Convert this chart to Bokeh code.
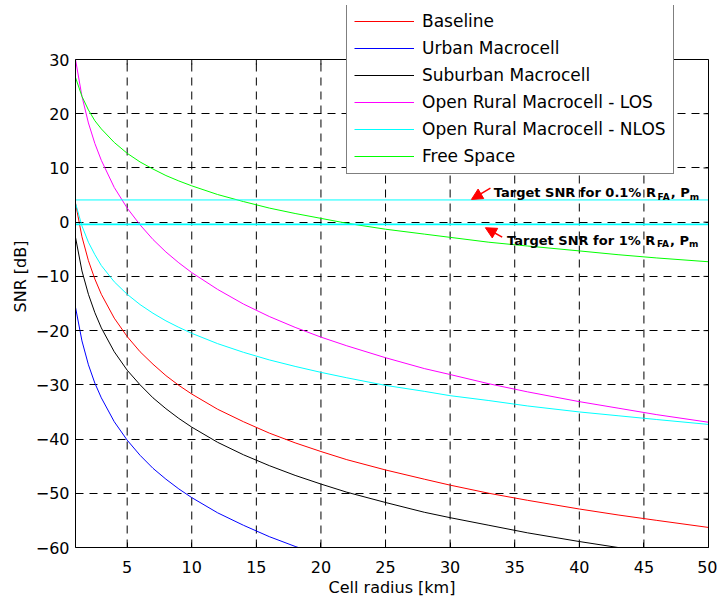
import math

from bokeh.plotting import figure
from bokeh.models import (Legend, LegendItem, LinearAxis, FixedTicker, Arrow,
                          NormalHead, Label, Range1d)
from bokeh.embed import file_html
from bokeh.resources import INLINE

# Cell radius samples [km]
radius_km = [1, 1.5, 2, 2.5, 3, 4, 5, 6, 7, 8, 9, 10, 12, 14, 16, 18, 20,
             22, 25, 28, 30, 33, 36, 40, 43, 46, 50]

# SNR [dB] per propagation model
snr_baseline = [3.5, -2.7, -7.1, -10.5, -13.3, -17.7, -21.1, -23.9, -26.2,
                -28.3, -30.1, -31.7, -34.5, -36.8, -38.9, -40.7, -42.3,
                -43.8, -45.7, -47.4, -48.5, -50.0, -51.3, -52.9, -54.0,
                -55.0, -56.3]
snr_urban = [-15.7, -21.9, -26.3, -29.7, -32.4, -36.8, -40.2, -43.0, -45.4,
             -47.4, -49.2, -50.8, -53.6, -55.9, -58.0, -59.8, -61.4]
snr_suburban = [-2.8, -9.0, -13.3, -16.7, -19.5, -23.9, -27.3, -30.0, -32.4,
                -34.4, -36.2, -37.8, -40.6, -42.9, -44.9, -46.7, -48.3,
                -49.8, -51.7, -53.5, -54.5, -55.9, -57.3, -58.9, -60.0,
                -61.0]
snr_rural_los = [30.0, 23.2, 18.3, 14.5, 11.4, 6.4, 2.6, -0.5, -3.2, -5.5,
                 -7.5, -9.3, -12.4, -15.1, -17.4, -19.4, -21.2, -22.8,
                 -25.0, -27.0, -28.1, -29.8, -31.3, -33.1, -34.3, -35.5,
                 -36.9]
snr_rural_nlos = [3.5, -0.7, -3.7, -6.0, -8.0, -11.0, -13.3, -15.2, -16.8,
                  -18.2, -19.4, -20.5, -22.4, -24.0, -25.4, -26.6, -27.7,
                  -28.7, -30.1, -31.2, -32.0, -32.9, -33.9, -35.0, -35.7,
                  -36.4, -37.3]
snr_free_space = [26.7, 23.2, 20.7, 18.7, 17.2, 14.7, 12.7, 11.1, 9.8, 8.6,
                  7.6, 6.7, 5.1, 3.8, 2.6, 1.6, 0.7, -0.2, -1.3, -2.2, -2.8,
                  -3.7, -4.4, -5.3, -6.0, -6.6, -7.3]

# Required SNR for the two false-alarm / miss targets
target_radius = [1, 50]
target_snr_01 = [4.1, 4.1]
target_snr_1 = [-0.4, -0.4]

x_ticks = [5, 10, 15, 20, 25, 30, 35, 40, 45, 50]
y_ticks = [-60, -50, -40, -30, -20, -10, 0, 10, 20, 30]

FONT = "DejaVu Sans"

X_MIN, X_MAX = 1, 50
Y_MIN, Y_MAX = y_ticks[0], y_ticks[-1]
# Headroom above the axes box so the legend can sit partly above it
Y_TOP = 39.96

p = figure(width=717, height=601, x_range=Range1d(X_MIN, X_MAX),
           y_range=Range1d(Y_MIN, Y_TOP), output_backend="svg",
           toolbar_location=None, min_border_left=75, min_border_right=9,
           min_border_top=5, min_border_bottom=54,
           background_fill_color="white", border_fill_color="white")
p.outline_line_color = None
p.xgrid.visible = False

for ax in (p.xaxis[0], p.yaxis[0]):
    ax.axis_line_color = "black"
    ax.major_tick_in = 5
    ax.major_tick_out = 0
    ax.minor_tick_line_color = None
    ax.major_label_text_font = FONT
    ax.major_label_text_font_size = "16px"
    ax.major_label_text_color = "black"
    ax.axis_label_text_font = FONT
    ax.axis_label_text_font_size = "16px"
    ax.axis_label_text_font_style = "normal"
    ax.axis_label_text_color = "black"

p.xaxis.ticker = FixedTicker(ticks=x_ticks)
p.yaxis.ticker = FixedTicker(ticks=y_ticks)
p.yaxis.bounds = (Y_MIN, Y_MAX)
p.xaxis.axis_label = "Cell radius [km]"
p.yaxis.axis_label = "SNR [dB]"
p.xaxis.major_label_standoff = 13
p.yaxis.major_label_standoff = 6
p.xaxis.axis_label_standoff = 2
p.yaxis.axis_label_standoff = 3

# Right edge of the axes box
right_axis = LinearAxis(ticker=FixedTicker(ticks=[]), bounds=(Y_MIN, Y_MAX),
                        axis_line_color="black", major_tick_out=0,
                        major_tick_in=0, minor_tick_line_color=None)
p.add_layout(right_axis, "right")

# Dashed grid limited to the axes box
p.ygrid.ticker = FixedTicker(ticks=y_ticks)
p.ygrid.grid_line_color = "black"
p.ygrid.grid_line_dash = "8 6"
p.ygrid.grid_line_width = 1
p.segment(x0=x_ticks, y0=[Y_MIN] * len(x_ticks), x1=x_ticks,
          y1=[Y_MAX] * len(x_ticks), line_color="black", line_dash="8 6",
          line_width=1, level="underlay")

# Top edge of the box and inward ticks on the top and right edges
p.line([X_MIN, X_MAX], [Y_MAX, Y_MAX], line_color="black", line_width=1)
p.ray(x=x_ticks, y=[Y_MAX] * len(x_ticks), length=5, length_units="screen",
      angle=-math.pi / 2, line_color="black", line_width=1)
p.ray(x=[X_MAX] * len(y_ticks), y=y_ticks, length=5, length_units="screen",
      angle=math.pi, line_color="black", line_width=1)

series = [
    ("Baseline", radius_km, snr_baseline, "#ff0000"),
    ("Urban Macrocell", radius_km[:len(snr_urban)], snr_urban, "#0000ff"),
    ("Suburban Macrocell", radius_km[:len(snr_suburban)], snr_suburban,
     "#000000"),
    ("Open Rural Macrocell - LOS", radius_km, snr_rural_los, "#ff00ff"),
    ("Open Rural Macrocell - NLOS", radius_km, snr_rural_nlos, "#00ffff"),
    ("Free Space", radius_km, snr_free_space, "#00ff00"),
]

items = []
for name, xs, ys, color in series:
    ys_clipped = [max(v, Y_MIN - 2) for v in ys]
    r = p.line(xs, ys_clipped, line_color=color, line_width=1)
    items.append(LegendItem(label=name, renderers=[r]))

p.line(target_radius, target_snr_01, line_color="#00ffff", line_width=1)
p.line(target_radius, target_snr_1, line_color="#00ffff", line_width=1.6)

legend = Legend(items=items, location=(271, 373), orientation="vertical",
                label_text_font=FONT, label_text_font_size="17px",
                label_text_color="black", label_height=18, glyph_height=18,
                glyph_width=60, label_standoff=8, spacing=7, padding=7,
                margin=0, border_line_color="black", border_line_width=1,
                background_fill_color="white", background_fill_alpha=1.0)
p.add_layout(legend)

# Text widths in em for DejaVu Sans Bold
label_em = {
    "Target SNR for 0.1% R": 12.6,
    "Target SNR for 1% R": 11.524,
    "FA": 1.457,
    ", P": 1.461,
    "m": 0.974,
}


def annotate(x, y, label):
    """Bold note with subscripts R_FA and P_m, pieces laid left to right."""
    big, small = 13, 9
    pieces = [(label, 0, big), ("FA", -4, small), (", P", 0, big),
              ("m", -4, small)]
    offset = 0.0
    for text, dy, size in pieces:
        p.add_layout(Label(x=x, y=y, x_offset=offset, y_offset=dy, text=text,
                           text_font=FONT, text_font_style="bold",
                           text_font_size=f"{size}px", text_color="black",
                           text_align="left", text_baseline="alphabetic"))
        offset += label_em[text] * size


annotate(33.38, 5.42, "Target SNR for 0.1% R")
annotate(34.41, -3.3, "Target SNR for 1% R")

head_style = dict(size=11, fill_color="#ff0000", line_color="#ff0000")
p.add_layout(Arrow(end=NormalHead(**head_style), x_start=33.12, y_start=6.27,
                   x_end=31.65, y_end=4.19, line_color="#ff0000",
                   line_width=1.5))
p.add_layout(Arrow(end=NormalHead(**head_style), x_start=34.03, y_start=-2.77,
                   x_end=32.73, y_end=-1.03, line_color="#ff0000",
                   line_width=1.5))

open("out.html", "w").write(file_html(p, INLINE))
